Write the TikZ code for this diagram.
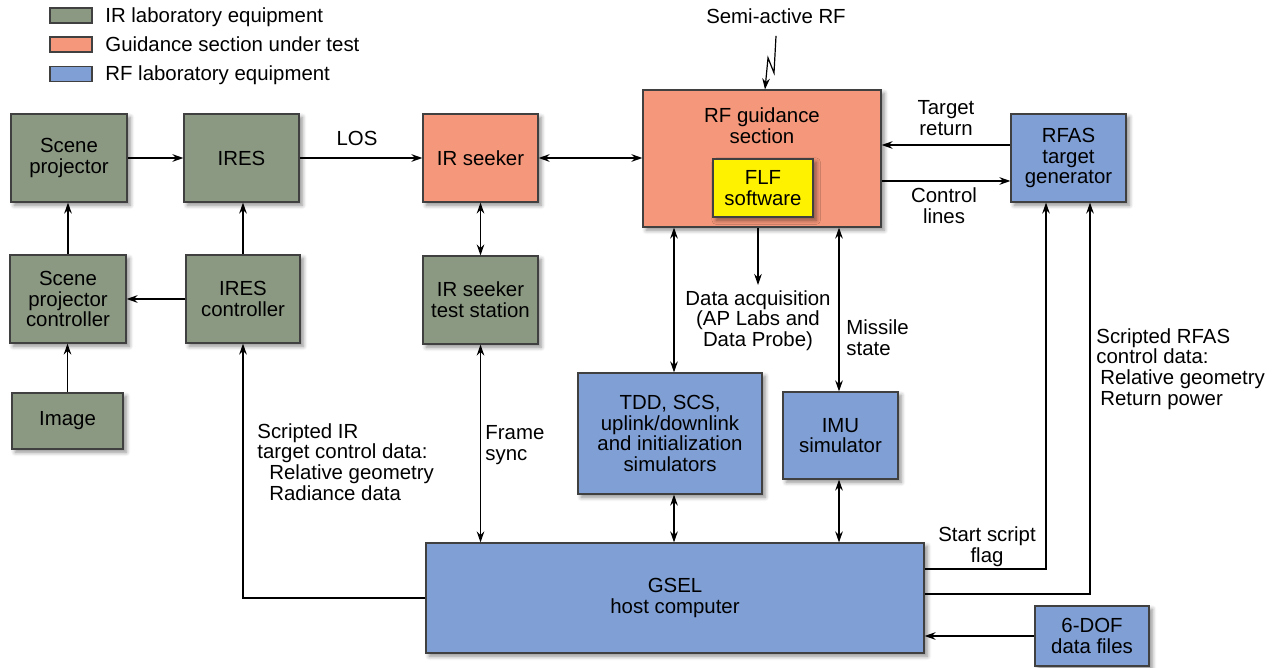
\documentclass[tikz,border=0pt]{standalone}
\usepackage{fontspec}
\setmainfont{Liberation Sans}
\usetikzlibrary{arrows.meta,shadows,shadows.blur,positioning}

\definecolor{irgreen}{RGB}{139,153,131}
\definecolor{guidorange}{RGB}{245,151,122}
\definecolor{rfblue}{RGB}{127,159,213}
\definecolor{flfyellow}{RGB}{255,242,0}

\tikzset{
  box/.style={draw=black!75, line width=0.6pt, inner sep=0pt, align=center,
    blur shadow={shadow xshift=1.6pt, shadow yshift=-1.6pt, shadow blur steps=6, shadow opacity=45}},
  irbox/.style={box, fill=irgreen},
  gsbox/.style={box, fill=guidorange},
  rfbox/.style={box, fill=rfblue},
  swatch/.style={draw=black!75, line width=0.6pt, inner sep=0pt, minimum width=21pt, minimum height=7.5pt},
  lab/.style={align=center, inner sep=0pt},
  labl/.style={align=left, inner sep=0pt},
  tip/.tip={Stealth[length=5.5pt, width=3.8pt, inset=1.8pt]},
  sig/.style={line width=0.6pt, -tip},
  sigb/.style={line width=0.6pt, tip-tip},
}

\begin{document}
\begin{tikzpicture}[x=0.5pt, y=-0.5pt, font=\fontsize{10.2}{10.4}\selectfont]
\useasboundingbox (0,0) rectangle (1283,668);

% key
\node[swatch, fill=irgreen] (keyir) at (71,15.5) {};
\node[swatch, fill=guidorange] (keyguid) at (71,44.5) {};
\node[swatch, fill=rfblue] (keyrf) at (71,74) {};
\node[anchor=base west, inner sep=0pt] (keyirtxt) at (105,23) {IR laboratory equipment};
\node[anchor=base west, inner sep=0pt] (keyguidtxt) at (105,51.5) {Guidance section under test};
\node[anchor=base west, inner sep=0pt] (keyrftxt) at (105,81) {RF laboratory equipment};

% IR side
\node[irbox, minimum width=58pt, minimum height=44pt] (scene) at (69,158) {Scene\\projector};
\node[irbox, minimum width=57.5pt, minimum height=44pt] (ires) at (241.5,158) {IRES};
\node[irbox, minimum width=58pt, minimum height=44pt] (spc) at (68,299) {Scene\\projector\\controller};
\node[irbox, minimum width=57pt, minimum height=44pt] (iresc) at (243,299) {IRES\\controller};
\node[irbox, minimum width=55.5pt, minimum height=28pt] (image) at (67.5,421) {Image};
\node[gsbox, minimum width=57.5pt, minimum height=44pt] (irseek) at (480.5,158) {IR seeker};
\node[irbox, minimum width=57.5pt, minimum height=44pt] (irts) at (480.5,300) {IR seeker\\test station};

% RF side
\node[gsbox, minimum width=119pt, minimum height=68.5pt,
  label={[lab, anchor=north, yshift=-9pt]north:{RF guidance\\section}}] (rfg) at (762,158.5) {};
\node[box, fill=flfyellow, minimum width=50pt, minimum height=29pt] (flf) at (763,188) {FLF\\software};
\node[rfbox, minimum width=57.5pt, minimum height=44pt] (rfas) at (1068.5,158) {RFAS\\target\\generator};
\node[rfbox, minimum width=92pt, minimum height=60.5pt] (tdd) at (670,433.5) {TDD, SCS,\\uplink/downlink\\and initialization\\simulators};
\node[rfbox, minimum width=57.5pt, minimum height=43.5pt] (imu) at (840.5,435.5) {IMU\\simulator};
\node[rfbox, minimum width=249pt, minimum height=55pt] (gsel) at (675,598) {GSEL\\host computer};
\node[rfbox, minimum width=57pt, minimum height=30pt] (dof) at (1092,636) {6-DOF\\data files};

% signal labels
\node[lab] (semi) at (776,16) {Semi-active RF};
\node[lab] (los) at (357,138) {LOS};
\node[lab] (tret) at (946,118) {Target\\return};
\node[lab] (ctrl) at (944,206) {Control\\lines};
\node[lab, anchor=north, inner sep=2.5pt] (daq) at (758,285) {Data acquisition\\(AP Labs and\\Data Probe)};
\node[labl, anchor=west] (msl) at (846,338) {Missile\\state};
\node[labl, anchor=west] (fsync) at (485,445) {Frame\\sync};
\node[labl, anchor=west] (irdata) at (257,462) {Scripted IR\\target control data:\\\hspace*{6pt}Relative geometry\\\hspace*{6pt}Radiance data};
\node[labl, anchor=west] (rfdata) at (1096,369) {Scripted RFAS\\control data:\\\hspace*{2pt}Relative geometry\\\hspace*{2pt}Return power};
\node[lab] (flag) at (987,547) {Start script\\flag};

% connectors
\draw[sig] (scene) -- (ires);
\draw[sig] (ires) -- (irseek);
\draw[sigb] (irseek.east) -- (irseek.east -| rfg.west);
\draw[sig] (spc.north) -- (spc.north |- scene.south);
\draw[sig] (iresc.north) -- (iresc.north |- ires.south);
\draw[sig] (iresc.west) -- (iresc.west -| spc.east);
\draw[sig] (image.north) -- (image.north |- spc.south);
\draw[sigb] (irseek.south) -- (irseek.south |- irts.north);
\draw[sigb] (irts.south) -- (irts.south |- gsel.north);
\draw[sig] (gsel.west) -| (iresc.south);

\coordinate (tddtop) at ([xshift=2pt]tdd.north);
\coordinate (tddbot) at ([xshift=2pt]tdd.south);
\coordinate (imutop) at ([xshift=-0.75pt]imu.north);
\coordinate (imubot) at ([xshift=-0.75pt]imu.south);
\draw[sigb] (tddtop) -- (tddtop |- rfg.south);
\draw[sigb] (tddbot) -- (tddbot |- gsel.north);
\draw[sigb] (imutop) -- (imutop |- rfg.south);
\draw[sigb] (imubot) -- (imubot |- gsel.north);
\draw[sig] (daq.north |- rfg.south) -- (daq.north);

\coordinate (retin) at ([yshift=6.5pt]rfas.west);
\coordinate (ctlin) at ([yshift=-11.5pt]rfas.west);
\draw[sig] (retin) -- (retin -| rfg.east);
\draw[sig] (ctlin -| rfg.east) -- (ctlin);

\coordinate (flagout) at ([yshift=14.5pt]gsel.east);
\coordinate (flagin) at ([xshift=-11.25pt]rfas.south);
\coordinate (scrout) at ([yshift=2pt]gsel.east);
\coordinate (scrin) at ([xshift=10.75pt]rfas.south);
\draw[sig] (flagout) -| (flagin);
\draw[sig] (scrout) -| (scrin);
\draw[sig] (dof.west) -- (dof.west -| gsel.east);

\draw[sig] ([yshift=-6pt]semi.south) -- ++(-2,37) -- ++(-6,-15) -- ([xshift=1.5pt]rfg.north);
\end{tikzpicture}
\end{document}
